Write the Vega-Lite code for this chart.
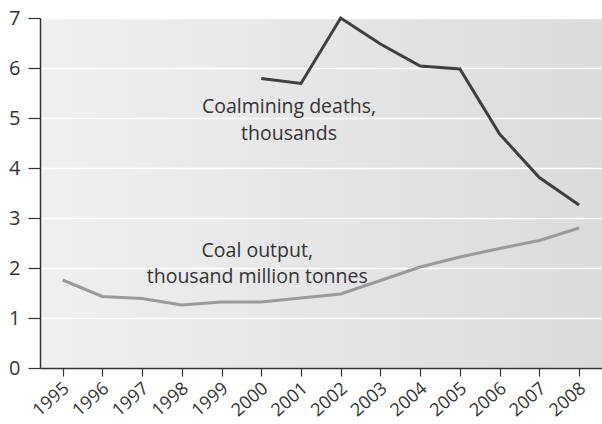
{
  "$schema": "https://vega.github.io/schema/vega-lite/v6.json",
  "autosize": {"type": "none"},
  "padding": {"left": 40, "top": 18, "right": 0, "bottom": 56},
  "width": 562,
  "height": 350,
  "background": "white",
  "config": {
    "view": {
      "stroke": null,
      "fill": {"gradient": "linear", "x1": 0, "y1": 0, "x2": 1, "y2": 0, "stops": [{"offset": 0, "color": "#f0f0f1"}, {"offset": 1, "color": "#dbdbdd"}]}
    },
    "font": "Open Sans",
    "axis": {
      "labelFont": "Open Sans",
      "labelColor": "#333333",
      "domainColor": "#333333",
      "domainWidth": 1.5,
      "tickColor": "#333333",
      "tickWidth": 1.2,
      "title": null
    }
  },
  "datasets": {
    "series": [
      {"year": 1995, "series": "output", "value": 1.76},
      {"year": 1996, "series": "output", "value": 1.43},
      {"year": 1997, "series": "output", "value": 1.39},
      {"year": 1998, "series": "output", "value": 1.26},
      {"year": 1999, "series": "output", "value": 1.32},
      {"year": 2000, "series": "output", "value": 1.32},
      {"year": 2001, "series": "output", "value": 1.40},
      {"year": 2002, "series": "output", "value": 1.48},
      {"year": 2003, "series": "output", "value": 1.75},
      {"year": 2004, "series": "output", "value": 2.02},
      {"year": 2005, "series": "output", "value": 2.22},
      {"year": 2006, "series": "output", "value": 2.39},
      {"year": 2007, "series": "output", "value": 2.55},
      {"year": 2008, "series": "output", "value": 2.80},
      {"year": 2000, "series": "deaths", "value": 5.79},
      {"year": 2001, "series": "deaths", "value": 5.69},
      {"year": 2002, "series": "deaths", "value": 7.0},
      {"year": 2003, "series": "deaths", "value": 6.48},
      {"year": 2004, "series": "deaths", "value": 6.04},
      {"year": 2005, "series": "deaths", "value": 5.98},
      {"year": 2006, "series": "deaths", "value": 4.68},
      {"year": 2007, "series": "deaths", "value": 3.81},
      {"year": 2008, "series": "deaths", "value": 3.26}
    ],
    "labels": [
      {"year": 2000.7, "value": 5.10, "text": "Coalmining deaths,"},
      {"year": 2000.7, "value": 4.56, "text": "thousands"},
      {"year": 1999.9, "value": 2.22, "text": "Coal output,"},
      {"year": 1999.9, "value": 1.70, "text": "thousand million tonnes"}
    ]
  },
  "layer": [
    {
      "data": {"name": "series"},
      "mark": {"type": "line", "strokeWidth": 3, "strokeJoin": "miter"},
      "encoding": {
        "x": {
          "field": "year", "type": "quantitative",
          "scale": {"domain": [1994.431, 2008.577], "nice": false, "zero": false},
          "axis": {
            "values": [1995, 1996, 1997, 1998, 1999, 2000, 2001, 2002, 2003, 2004, 2005, 2006, 2007, 2008],
            "format": "d",
            "grid": false,
            "tickSize": 8,
            "labelAngle": -41,
            "labelAlign": "right",
            "labelBaseline": "middle",
            "labelFontSize": 18,
            "labelPadding": 10,
            "labelOffset": 4,
            "labelBound": false,
            "labelOverlap": false,
            "labelFlush": false
          }
        },
        "y": {
          "field": "value", "type": "quantitative",
          "scale": {"domain": [0, 7], "nice": false},
          "axis": {
            "values": [0, 1, 2, 3, 4, 5, 6, 7],
            "grid": true,
            "gridColor": "#ffffff",
            "gridWidth": 1.5,
            "tickSize": 12,
            "labelFontSize": 20,
            "labelPadding": 8
          }
        },
        "color": {
          "field": "series", "type": "nominal",
          "scale": {"domain": ["deaths", "output"], "range": ["#3f3f40", "#9a9a9b"]},
          "legend": null
        }
      }
    },
    {
      "data": {"name": "labels"},
      "mark": {"type": "text", "fontSize": 19.5, "color": "#333333", "align": "center", "baseline": "alphabetic", "font": "Open Sans"},
      "encoding": {
        "x": {"field": "year", "type": "quantitative"},
        "y": {"field": "value", "type": "quantitative"},
        "text": {"field": "text"}
      }
    }
  ]
}
